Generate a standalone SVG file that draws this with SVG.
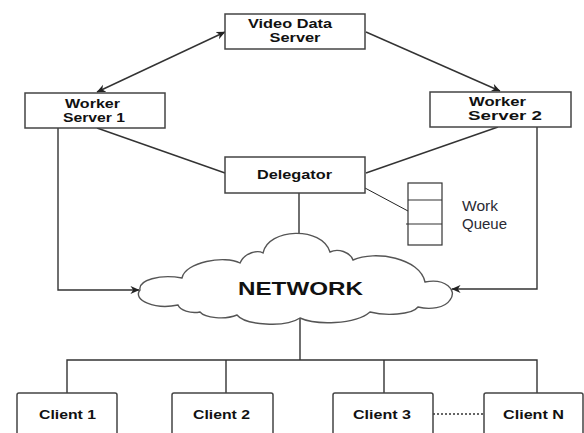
<svg xmlns="http://www.w3.org/2000/svg" width="584" height="433" viewBox="0 0 584 433">
<defs>
<marker id="arr" viewBox="0 0 10 10" refX="9.5" refY="5" markerWidth="9" markerHeight="9" markerUnits="userSpaceOnUse" orient="auto-start-reverse">
<path d="M0,0.5 L10,5 L0,9.5 L3,5 Z" fill="#222"/>
</marker>
<style>
.box{fill:#fff;stroke:#444;stroke-width:1.5}
.ln{fill:none;stroke:#333;stroke-width:1.4}
.t{font-family:"Liberation Sans",Arial,sans-serif;font-weight:bold;font-size:12px;fill:#111}
.q{font-family:"Liberation Sans",Arial,sans-serif;font-size:15px;fill:#2a2a33}
</style>
</defs>
<rect width="584" height="433" fill="#fff"/>
<g id="connectors">
<line class="ln" x1="225" y1="32" x2="97" y2="92" marker-start="url(#arr)" marker-end="url(#arr)"/>
<line class="ln" x1="366" y1="32" x2="500" y2="91" marker-end="url(#arr)"/>
<line class="ln" x1="97" y1="128" x2="225" y2="173"/>
<line class="ln" x1="498" y1="127" x2="366" y2="173"/>
<polyline class="ln" points="58,128 58,290 139,290" marker-end="url(#arr)"/>
<polyline class="ln" points="537,127 537,289 452,289" marker-end="url(#arr)"/>
<line class="ln" x1="299" y1="193" x2="299" y2="235"/>
<line x1="365" y1="188" x2="408" y2="211" stroke="#222" stroke-width="1"/>
<line class="ln" x1="300" y1="319" x2="300" y2="360"/>
<polyline class="ln" points="67,393 67,360 537,360 537,393"/>
<line class="ln" x1="226" y1="360" x2="226" y2="393"/>
<line class="ln" x1="384" y1="360" x2="384" y2="393"/>
<line x1="433" y1="414" x2="484" y2="414" stroke="#333" stroke-width="1.3" stroke-dasharray="2,2"/>
</g>
<g id="video-data-server">
<rect class="box" x="225" y="14" width="140" height="35"/>
<text class="t" x="290" y="28" text-anchor="middle" textLength="84" lengthAdjust="spacingAndGlyphs">Video Data</text>
<text class="t" x="295" y="42" text-anchor="middle" textLength="51" lengthAdjust="spacingAndGlyphs">Server</text>
</g>
<g id="worker-server-1">
<rect class="box" x="25" y="93" width="140" height="35"/>
<text class="t" x="92.5" y="108" text-anchor="middle" textLength="55" lengthAdjust="spacingAndGlyphs">Worker</text>
<text class="t" x="94" y="122" text-anchor="middle" textLength="62" lengthAdjust="spacingAndGlyphs">Server 1</text>
</g>
<g id="worker-server-2">
<rect class="box" x="430" y="92" width="141" height="35"/>
<text class="t" x="497.5" y="106" text-anchor="middle" textLength="57" lengthAdjust="spacingAndGlyphs">Worker</text>
<text class="t" x="505" y="120" text-anchor="middle" textLength="74" lengthAdjust="spacingAndGlyphs">Server 2</text>
</g>
<g id="delegator">
<rect class="box" x="225" y="157" width="140" height="36"/>
<text class="t" x="294.5" y="179" text-anchor="middle" textLength="75" lengthAdjust="spacingAndGlyphs" style="font-size:13px">Delegator</text>
</g>
<g id="work-queue">
<rect x="408" y="183" width="34" height="62" fill="#fff" stroke="#333" stroke-width="1.2"/>
<line x1="408" y1="200" x2="442" y2="200" stroke="#333" stroke-width="1.2"/>
<line x1="406" y1="224" x2="442" y2="224" stroke="#333" stroke-width="1.2"/>
<text class="q" x="462" y="211" textLength="36" lengthAdjust="spacingAndGlyphs">Work</text>
<text class="q" x="462" y="229" textLength="45" lengthAdjust="spacingAndGlyphs">Queue</text>
</g>
<g id="network">
<path d="M140,290 C138,280 160,274 182,278 C185,262 225,255 240,263 C245,252 258,250 263,253 C268,228 322,226 330,252 C338,248 350,252 353,260 C375,250 420,258 425,282 C445,278 458,290 450,300 C445,308 430,310 418,307 C412,315 385,316 370,312 C355,325 315,325 300,318 C285,328 245,325 237,315 C225,320 205,318 200,312 C190,314 180,310 178,305 C155,310 132,300 140,290 Z" fill="#fff" stroke="#555" stroke-width="1.4"/>
<text class="t" x="300.5" y="295" text-anchor="middle" textLength="125" lengthAdjust="spacingAndGlyphs" style="font-size:18px">NETWORK</text>
</g>
<g id="client-1">
<rect class="box" x="17" y="393" width="100" height="50" rx="2"/>
<text class="t" x="67.5" y="419" text-anchor="middle" textLength="57" lengthAdjust="spacingAndGlyphs" style="font-size:13px">Client 1</text>
</g>
<g id="client-2">
<rect class="box" x="172" y="393" width="101" height="50" rx="2"/>
<text class="t" x="221.5" y="419" text-anchor="middle" textLength="57" lengthAdjust="spacingAndGlyphs" style="font-size:13px">Client 2</text>
</g>
<g id="client-3">
<rect class="box" x="333" y="393" width="100" height="50" rx="2"/>
<text class="t" x="382" y="419" text-anchor="middle" textLength="58" lengthAdjust="spacingAndGlyphs" style="font-size:13px">Client 3</text>
</g>
<g id="client-n">
<rect class="box" x="484" y="393" width="99" height="50" rx="2"/>
<text class="t" x="533.5" y="419" text-anchor="middle" textLength="61" lengthAdjust="spacingAndGlyphs" style="font-size:13px">Client N</text>
</g>
</svg>
